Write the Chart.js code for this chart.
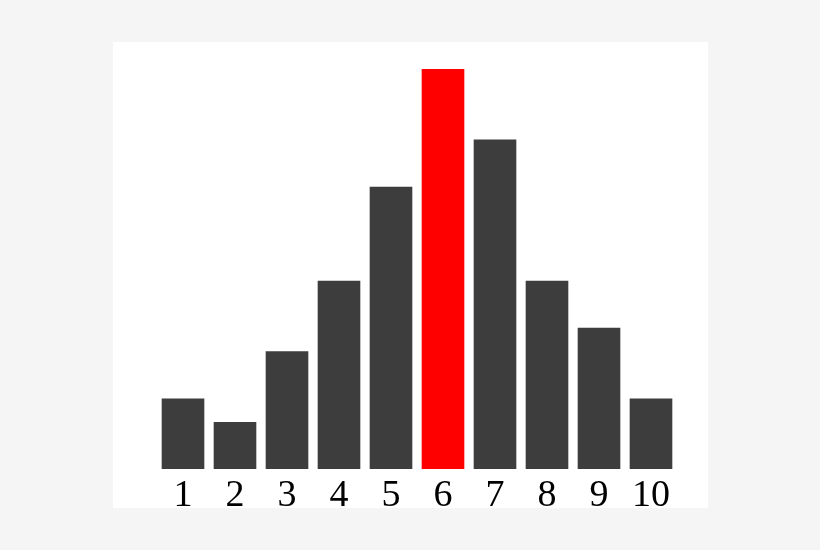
<!DOCTYPE html>
<html>
<head>
<meta charset="utf-8">
<script src="https://cdn.jsdelivr.net/npm/chart.js@4"></script>
<style>
  html, body { margin: 0; padding: 0; background: #f5f5f5; }
  #panel { position: absolute; left: 113px; top: 42px; width: 595px; height: 466px; background: #ffffff; }
  #wrap { position: absolute; left: 113px; top: 42px; width: 595px; height: 473px; }
</style>
</head>
<body>
<div id="panel"></div>
<div id="wrap"><canvas id="chart"></canvas></div>
<script>
const categories = ['1', '2', '3', '4', '5', '6', '7', '8', '9', '10'];
const values = [3, 2, 5, 8, 12, 17, 14, 8, 6, 3];
const highlight = '6';

const colors = categories.map(c => c === highlight ? '#ff0000' : '#3d3d3d');

new Chart(document.getElementById('chart'), {
    type: 'bar',
    data: {
        labels: categories,
        datasets: [{
            data: values,
            backgroundColor: colors,
            borderWidth: 0,
            barPercentage: 0.82,
            categoryPercentage: 1
        }]
    },
    options: {
        responsive: true,
        maintainAspectRatio: false,
        animation: false,
        layout: { padding: { left: 44, right: 31, top: 27, bottom: 0 } },
        scales: {
            x: {
                grid: { display: false },
                border: { display: false },
                ticks: {
                    color: '#000000',
                    padding: 0,
                    maxRotation: 0,
                    font: { family: '"Liberation Serif", "Times New Roman", serif', size: 38, lineHeight: 1 }
                }
            },
            y: {
                display: false,
                min: 0,
                max: 17
            }
        },
        plugins: {
            legend: { display: false },
            tooltip: { enabled: false }
        }
    }
});
</script>
</body>
</html>
